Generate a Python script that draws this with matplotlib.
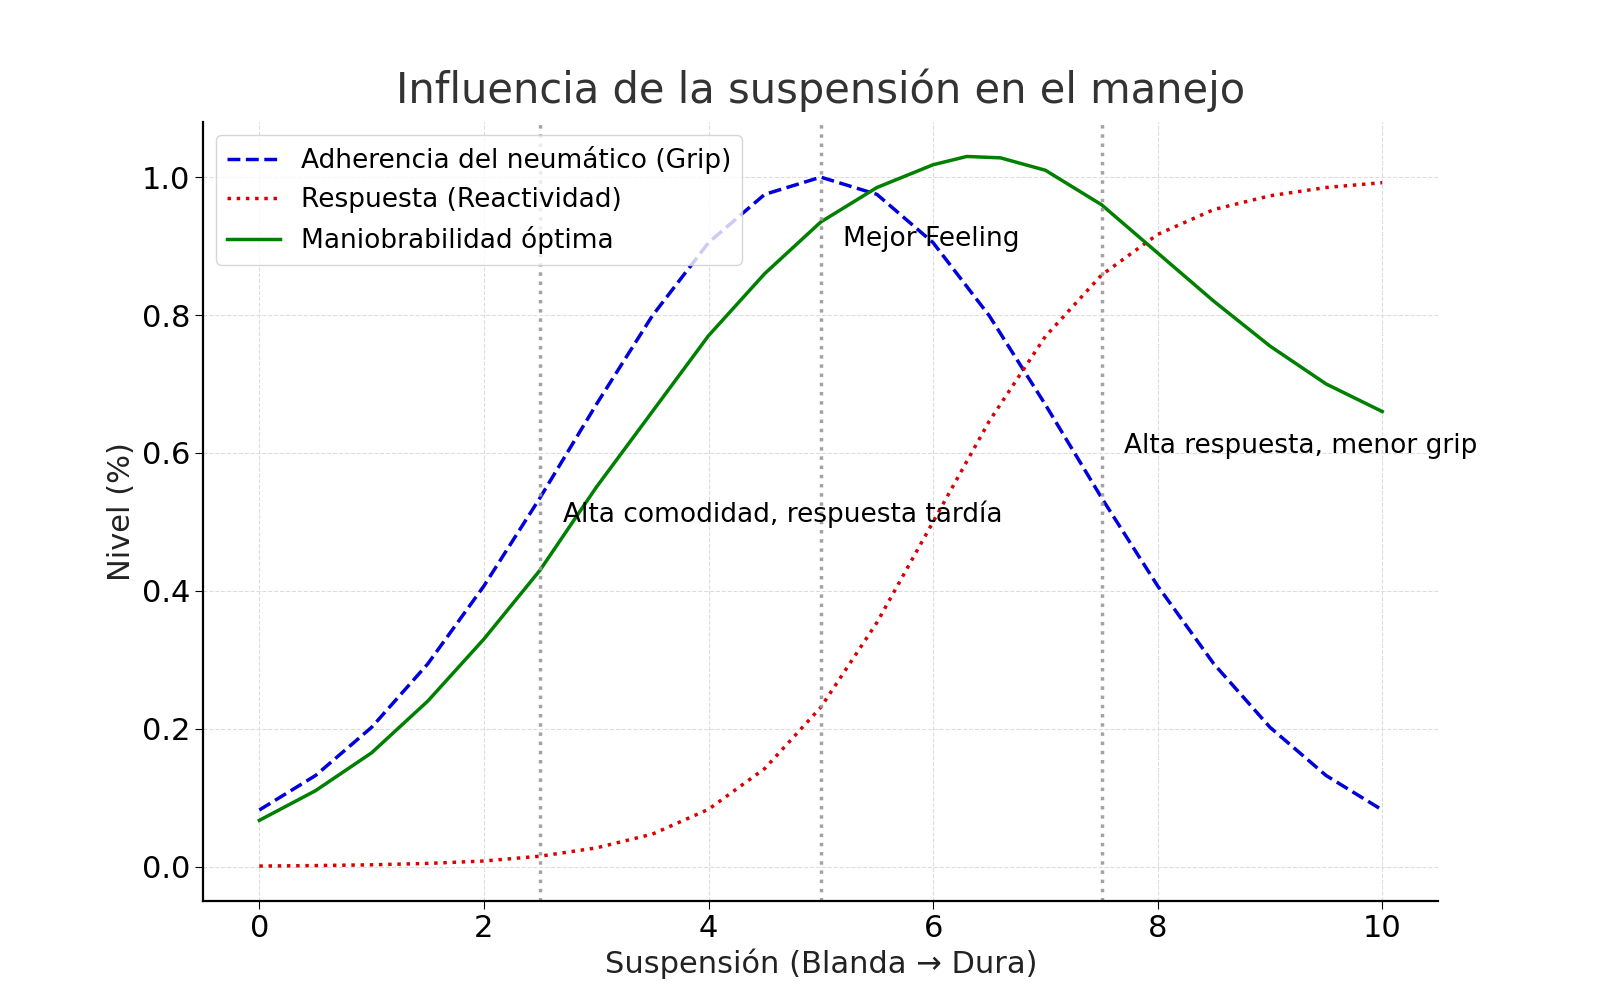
import matplotlib
matplotlib.use("Agg")
import matplotlib.pyplot as plt

# values
x_grip = [0, 0.5, 1, 1.5, 2, 2.5, 3, 3.5, 4, 4.5, 5, 5.5, 6, 6.5, 7, 7.5, 8, 8.5, 9, 9.5, 10]
grip = [0.082, 0.132, 0.202, 0.294, 0.407, 0.535, 0.670, 0.799, 0.905, 0.975, 1.0,
        0.975, 0.905, 0.799, 0.670, 0.535, 0.407, 0.294, 0.202, 0.132, 0.082]
react = [0.0007, 0.0014, 0.0025, 0.0045, 0.008, 0.015, 0.027, 0.047, 0.083, 0.142, 0.231,
         0.354, 0.5, 0.646, 0.769, 0.858, 0.917, 0.953, 0.973, 0.985, 0.992]
x_man = [0, 0.5, 1, 1.5, 2, 2.5, 3, 3.5, 4, 4.5, 5, 5.5, 6, 6.3, 6.6, 7, 7.5, 8, 8.5, 9, 9.5, 10]
man = [0.067, 0.11, 0.165, 0.24, 0.33, 0.43, 0.55, 0.66, 0.77, 0.86, 0.935, 0.985, 1.018, 1.03,
       1.028, 1.01, 0.96, 0.89, 0.82, 0.755, 0.70, 0.66]
zones = [2.5, 5, 7.5]
notes = [(5.2, 0.9, "Mejor Feeling"), (2.7, 0.5, "Alta comodidad, respuesta tardía"),
         (7.7, 0.6, "Alta respuesta, menor grip")]

fig = plt.figure(figsize=(16, 10), dpi=100)
ax = fig.add_axes([0.127, 0.099, 0.772, 0.779])
ax.plot(x_grip, grip, "--", color="#0000dd", lw=2.5, label="Adherencia del neumático (Grip)")
ax.plot(x_grip, react, ":", color="#dd0000", lw=2.5, label="Respuesta (Reactividad)")
ax.plot(x_man, man, "-", color="green", lw=2.5, label="Maniobrabilidad óptima")
for z in zones:
    ax.axvline(z, color="#999999", ls=":", lw=2.5, alpha=0.9)
for tx, ty, s in notes:
    ax.text(tx, ty, s, fontsize=19)
ax.set_xlim(-0.5, 10.5)
ax.set_ylim(-0.05, 1.08)
ax.set_xticks([0, 2, 4, 6, 8, 10])
ax.grid(True, ls="--", color="#dddddd")
ax.tick_params(labelsize=22, length=6)
ax.set_xlabel("Suspensión (Blanda → Dura)", fontsize=22, color="#222222")
ax.set_ylabel("Nivel (%)", fontsize=22, color="#222222")
ax.set_title("Influencia de la suspensión en el manejo", fontsize=30, color="#333333", pad=14)
for sp in ["top", "right"]:
    ax.spines[sp].set_visible(False)
ax.spines["left"].set_linewidth(1.6)
ax.spines["bottom"].set_linewidth(1.6)
ax.legend(loc="upper left", fontsize=19, framealpha=0.8)
fig.savefig("out.png")
